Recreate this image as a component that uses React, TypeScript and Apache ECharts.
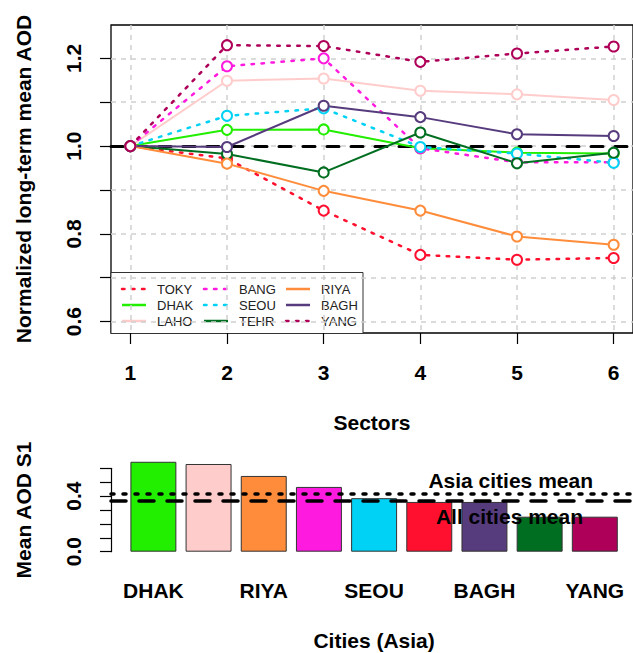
import * as echarts from 'echarts';
import { useEffect, useRef } from 'react';

const FONT = "'Liberation Sans', Arial, Helvetica, sans-serif";

// Top panel: normalized long-term mean AOD by sector
const SECTORS = [1, 2, 3, 4, 5, 6];
const CITY_CODES = ['TOKY', 'DHAK', 'LAHO', 'BANG', 'SEOU', 'TEHR', 'RIYA', 'BAGH', 'YANG'];
const DOTTED_CITIES = ['TOKY', 'BANG', 'SEOU', 'YANG'];

const TOKY = [1, 0.972, 0.853, 0.752, 0.741, 0.745];
const DHAK = [1, 1.037, 1.038, 0.995, 0.985, 0.983];
const LAHO = [1, 1.149, 1.154, 1.126, 1.118, 1.105];
const BANG = [1, 1.182, 1.2, 0.995, 0.963, 0.963];
const SEOU = [1, 1.069, 1.086, 0.998, 0.983, 0.962];
const TEHR = [1, 0.982, 0.94, 1.031, 0.961, 0.985];
const RIYA = [1, 0.96, 0.898, 0.853, 0.794, 0.775];
const BAGH = [1, 0.998, 1.092, 1.066, 1.027, 1.023];
const YANG = [1, 1.23, 1.228, 1.192, 1.211, 1.227];

const CITY_VALUES: Record<string, number[]> = { TOKY, DHAK, LAHO, BANG, SEOU, TEHR, RIYA, BAGH, YANG };

const CITY_COLORS: Record<string, string> = {
  TOKY: '#ff102f',
  DHAK: '#22ee00',
  LAHO: '#ffcccc',
  BANG: '#ff1adf',
  SEOU: '#00d2f5',
  TEHR: '#006e20',
  RIYA: '#ff8c3a',
  BAGH: '#573c7d',
  YANG: '#ae0058',
};

const REFERENCE_LEVEL = 1;
const Y_TICKS_TOP = [0.6, 0.7, 0.8, 0.9, 1.0, 1.1, 1.2];
const Y_LABELS_TOP = [0.6, 0.8, 1.0, 1.2];

// Bottom panel: mean AOD in sector 1
const BAR_CITIES = ['DHAK', 'LAHO', 'RIYA', 'BANG', 'SEOU', 'TOKY', 'BAGH', 'TEHR', 'YANG'];
const BAR_VALUES = [0.647, 0.631, 0.545, 0.466, 0.385, 0.358, 0.358, 0.252, 0.252];
const ASIA_MEAN = 0.42;
const ALL_MEAN = 0.367;
const Y_TICKS_BOTTOM = [0, 0.1, 0.2, 0.3, 0.4, 0.5, 0.6];
const Y_LABELS_BOTTOM = [0, 0.4];

const boldText = { fontFamily: FONT, fontSize: 21, fontWeight: 'bold' as const, color: '#000' };

const dottedDash = [2.5, 7.5];

// legend box placed in the lower-left corner of the top panel, 3 rows per column
function buildLegend() {
  const boxX = 111;
  const boxY = 272.5;
  const colX = [122, 204, 286];
  const rowY = [289, 305, 321];
  const children: any[] = [
    {
      type: 'rect',
      shape: { x: boxX, y: boxY, width: 252, height: 61 },
      style: { fill: '#fff', stroke: '#333', lineWidth: 1 },
    },
  ];
  CITY_CODES.forEach((code, i) => {
    const x = colX[Math.floor(i / 3)];
    const y = rowY[i % 3];
    const dotted = DOTTED_CITIES.includes(code);
    children.push({
      type: 'line',
      shape: { x1: x, y1: y, x2: x + 24, y2: y },
      style: {
        stroke: CITY_COLORS[code],
        lineWidth: dotted ? 2.5 : 2.5,
        lineDash: dotted ? dottedDash : null,
        lineCap: dotted ? 'round' : 'butt',
      },
    });
    children.push({
      type: 'text',
      x: x + 35,
      y,
      style: {
        text: code,
        fill: '#222',
        font: `13px ${FONT}`,
        verticalAlign: 'middle',
        align: 'left',
      },
    });
  });
  return { type: 'group', z: 20, silent: true, children };
}

export default function App() {
  const ref = useRef<HTMLDivElement | null>(null);

  useEffect(() => {
    if (!ref.current) return undefined;
    const chart = echarts.init(ref.current, undefined, { renderer: 'svg' });

    const lineSeries = CITY_CODES.map((code, i) => {
      const dotted = DOTTED_CITIES.includes(code);
      return {
        type: 'line',
        name: code,
        xAxisIndex: 0,
        yAxisIndex: 0,
        data: SECTORS.map((s, k) => [s, CITY_VALUES[code][k]]),
        symbol: 'emptyCircle',
        symbolSize: 10,
        itemStyle: { color: CITY_COLORS[code], borderWidth: 2 },
        lineStyle: {
          color: CITY_COLORS[code],
          width: dotted ? 2.5 : 2,
          type: dotted ? dottedDash : 'solid',
          cap: dotted ? 'round' : 'butt',
        },
        z: 3,
        markLine:
          i === 0
            ? {
                silent: true,
                symbol: ['none', 'none'],
                z: 1,
                label: { show: false },
                lineStyle: { color: '#000', width: 3, type: [12, 12], cap: 'round' },
                data: [{ yAxis: REFERENCE_LEVEL }],
              }
            : undefined,
      };
    });

    chart.setOption({
      animation: false,
      textStyle: { fontFamily: FONT },
      grid: [
        { left: 111, top: 25, width: 526, height: 308, show: true, borderColor: '#000', borderWidth: 1.3 },
        { left: 125.8, top: 468.3, width: 496.6, height: 83.4 },
        { left: 111, top: 468.3, width: 524, height: 83.4 },
      ],
      graphic: [buildLegend()],
      xAxis: [
        {
          type: 'value',
          gridIndex: 0,
          min: 0.8,
          max: 6.2,
          axisLine: { show: false },
          axisTick: { show: true, length: 11, customValues: SECTORS, lineStyle: { color: '#000', width: 1.2 } },
          axisLabel: { customValues: SECTORS, margin: 29, ...boldText },
          splitLine: { show: true, lineStyle: { color: '#cfcfcf', width: 1.5, type: [5, 5] } },
          name: 'Sectors',
          nameLocation: 'middle',
          nameGap: 79,
          nameTextStyle: boldText,
        },
        {
          type: 'category',
          gridIndex: 1,
          data: BAR_CITIES,
          axisLine: { show: false },
          axisTick: { show: false },
          axisLabel: { interval: 1, margin: 28, ...boldText },
          splitLine: { show: false },
          name: 'Cities (Asia)',
          nameLocation: 'middle',
          nameGap: 78,
          nameTextStyle: boldText,
        },
        { type: 'value', gridIndex: 2, min: 0, max: 1, show: false },
      ],
      yAxis: [
        {
          type: 'value',
          gridIndex: 0,
          min: 0.574,
          max: 1.276,
          axisLine: { show: false },
          axisTick: { show: true, length: 11, customValues: Y_TICKS_TOP, lineStyle: { color: '#000', width: 1.2 } },
          axisLabel: {
            customValues: Y_LABELS_TOP,
            rotate: 90,
            margin: 27,
            formatter: (v: number) => v.toFixed(1),
            ...boldText,
          },
          splitLine: { show: true, lineStyle: { color: '#cfcfcf', width: 1.5, type: [5, 5] } },
          name: 'Normalized long-term mean AOD',
          nameLocation: 'middle',
          nameRotate: 90,
          nameGap: 77,
          nameTextStyle: boldText,
        },
        { type: 'value', gridIndex: 1, min: 0, max: 0.6, show: false },
        {
          type: 'value',
          gridIndex: 2,
          min: 0,
          max: 0.6,
          axisLine: { show: true, lineStyle: { color: '#000', width: 1.2 } },
          axisTick: { show: true, length: 11, customValues: Y_TICKS_BOTTOM, lineStyle: { color: '#000', width: 1.2 } },
          axisLabel: {
            customValues: Y_LABELS_BOTTOM,
            rotate: 90,
            margin: 27,
            formatter: (v: number) => v.toFixed(1),
            ...boldText,
          },
          splitLine: { show: false },
          name: 'Mean AOD S1',
          nameLocation: 'middle',
          nameRotate: 90,
          nameGap: 77,
          nameTextStyle: boldText,
        },
      ],
      series: [
        ...lineSeries,
        {
          type: 'bar',
          name: 'Mean AOD S1',
          xAxisIndex: 1,
          yAxisIndex: 1,
          clip: false,
          barCategoryGap: '16.7%',
          data: BAR_VALUES.map((v, i) => ({
            value: v,
            itemStyle: { color: CITY_COLORS[BAR_CITIES[i]] },
          })),
          itemStyle: { borderColor: '#333', borderWidth: 1 },
        },
        {
          type: 'line',
          name: 'means',
          xAxisIndex: 2,
          yAxisIndex: 2,
          data: [],
          markLine: {
            silent: true,
            symbol: ['none', 'none'],
            z: 6,
            data: [
              {
                yAxis: ASIA_MEAN,
                lineStyle: { color: '#000', width: 3.5, type: [3, 9], cap: 'round' },
                label: {
                  show: true,
                  formatter: 'Asia cities mean',
                  position: 'insideEndTop',
                  distance: [40, 2],
                  ...boldText,
                },
              },
              {
                yAxis: ALL_MEAN,
                lineStyle: { color: '#000', width: 3.5, type: [15, 13], cap: 'round' },
                label: {
                  show: true,
                  formatter: 'All cities mean',
                  position: 'insideEndBottom',
                  distance: [50, 6],
                  ...boldText,
                },
              },
            ],
          },
        },
      ],
    });

    return () => {
      chart.dispose();
    };
  }, []);

  return (
    <div
      ref={ref}
      style={{ position: 'absolute', left: 0, top: 0, width: 633, height: 653, background: '#fff' }}
    />
  );
}
